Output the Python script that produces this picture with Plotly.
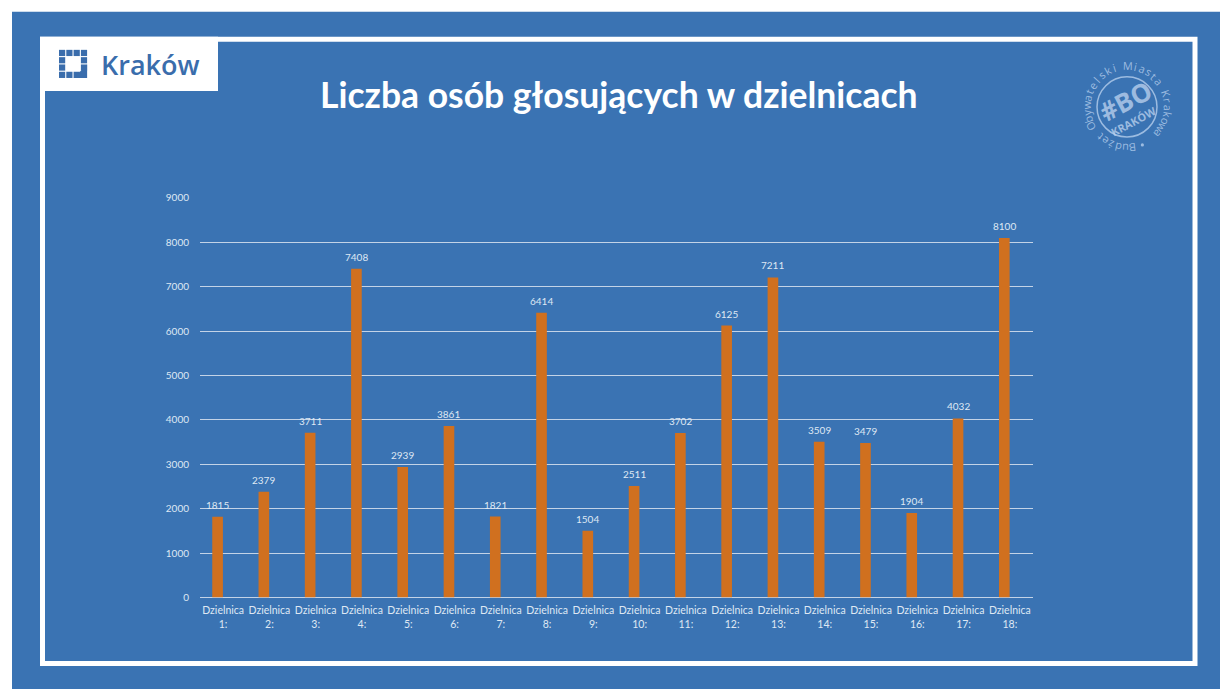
import math
import plotly.graph_objects as go

# ---- data ----
districts = [f"Dzielnica<br>{i}:" for i in range(1, 19)]
voters = [1815, 2379, 3711, 7408, 2939, 3861, 1821, 6414, 1504,
          2511, 3702, 6125, 7211, 3509, 3479, 1904, 4032, 8100]
y_ticks = [0, 1000, 2000, 3000, 4000, 5000, 6000, 7000, 8000, 9000]
title_text = "Liczba osób głosujących w dzielnicach"
badge_ring_text = "Budżet Obywatelski Miasta Krakowa"

W, H = 1220, 689
BLUE = "#3a73b3"
ORANGE = "#d0701f"
LABEL = "#dfe8f3"
GRID = "#c3d3e7"
LOGO_BLUE = "#3a6dac"
BADGE = "rgba(190,212,240,0.75)"

# the photographed page maps figure y to screen y roughly as 6.2 + 0.9816*y;
# layout positions below are given in screen pixels and converted back.
Y_OFF, Y_SC = 6.2, 0.9816


def px(x):
    return x / W


def py(y):
    return 1 - ((y - Y_OFF) / Y_SC) / H


fig = go.Figure()
fig.add_trace(go.Bar(
    x=districts, y=voters,
    marker=dict(color=ORANGE, line=dict(width=0)),
    width=0.23, offset=-0.235,
    hoverinfo="x+y",
))
# value labels, centred over each bar
bar_centre_shift = -0.235 + 0.23 / 2
annotations = []
for i, v in enumerate(voters):
    annotations.append(dict(text=str(v), x=i + bar_centre_shift, y=v, xref="x", yref="y",
                            xanchor="center", yanchor="bottom", yshift=4, showarrow=False,
                            font=dict(family="Lato", size=10, color=LABEL)))

shapes = []
shapes.append(dict(type="rect", xref="paper", yref="paper", x0=0, x1=1, y0=py(12), y1=1.02,
                   fillcolor="white", line=dict(width=0), layer="below"))
shapes.append(dict(type="rect", xref="paper", yref="paper", x0=0, x1=px(12), y0=-0.02, y1=1.02,
                   fillcolor="white", line=dict(width=0), layer="below"))
shapes.append(dict(type="rect", xref="paper", yref="paper", x0=px(42.5), x1=px(1195), y0=py(663), y1=py(39.5),
                   line=dict(color="white", width=5), fillcolor="rgba(0,0,0,0)", layer="below"))
shapes.append(dict(type="rect", xref="paper", yref="paper", x0=px(40), x1=px(218), y0=py(91), y1=py(37),
                   fillcolor="white", line=dict(width=0), layer="below"))
cell, step, ox, oy = 6.2, 7.3, 59, 50
for r in range(4):
    for c in range(4):
        if 0 < r < 3 and 0 < c < 3:
            continue
        if r == 3 and c == 3:
            continue
        x0, y0 = ox + c * step, oy + r * step
        shapes.append(dict(type="rect", xref="paper", yref="paper",
                           x0=px(x0), x1=px(x0 + cell), y0=py(y0 + cell), y1=py(y0),
                           fillcolor=LOGO_BLUE, line=dict(width=0), layer="above"))
x0, y0 = ox + 2 * step, oy + 2 * step
shapes.append(dict(type="path", xref="paper", yref="paper",
                   path=f"M {px(x0 + step + cell)},{py(y0)} L {px(x0 + step + cell)},{py(y0 + step + cell)} "
                        f"L {px(x0)},{py(y0 + step + cell)} Z",
                   fillcolor=LOGO_BLUE, line=dict(width=0)))
cx, cy = 1127, 107
ri = 30
shapes.append(dict(type="circle", xref="paper", yref="paper",
                   x0=px(cx - ri), x1=px(cx + ri), y0=py(cy + ri), y1=py(cy - ri),
                   line=dict(color=BADGE, width=1.5)))
dr = 1.6
dth = math.radians(158)
dx, dy = cx + 41 * math.sin(dth), cy - 41 * math.cos(dth)
shapes.append(dict(type="circle", xref="paper", yref="paper",
                   x0=px(dx - dr), x1=px(dx + dr), y0=py(dy + dr), y1=py(dy - dr),
                   fillcolor=BADGE, line=dict(width=0)))

annotations.append(dict(text="Kraków", x=px(99), y=py(65), xref="paper", yref="paper",
                        xanchor="left", yanchor="middle", showarrow=False,
                        font=dict(family="Open Sans", size=27, color=LOGO_BLUE, weight=600)))
annotations.append(dict(text=f"<b>{title_text}</b>", x=px(619), y=py(95), xref="paper", yref="paper",
                        xanchor="center", yanchor="middle", showarrow=False,
                        font=dict(family="Lato", size=35.5, color="white")))
annotations.append(dict(text="<b>#BO</b>", x=px(1125), y=py(101), xref="paper", yref="paper",
                        xanchor="center", yanchor="middle", showarrow=False, textangle=-28,
                        font=dict(family="Open Sans", size=26, color=BADGE)))
annotations.append(dict(text="<b>KRAKÓW</b>", x=px(1133), y=py(122), xref="paper", yref="paper",
                        xanchor="center", yanchor="middle", showarrow=False, textangle=-28,
                        font=dict(family="Open Sans", size=11, color=BADGE)))
n = len(badge_ring_text)
th0, th1 = 173, 491
R = 41
for i, ch in enumerate(badge_ring_text):
    if ch == " ":
        continue
    th = th0 + (th1 - th0) * i / (n - 1)
    t = math.radians(th)
    x = cx + R * math.sin(t)
    y = cy - R * math.cos(t)
    ang = ((th + 180) % 360) - 180
    annotations.append(dict(text=ch, x=px(x), y=py(y), xref="paper", yref="paper",
                            xanchor="center", yanchor="middle", showarrow=False,
                            textangle=ang,
                            font=dict(family="Open Sans", size=11, color=BADGE)))

fig.update_layout(
    width=W, height=H, autosize=False,
    margin=dict(l=0, r=0, t=0, b=0),
    paper_bgcolor=BLUE, plot_bgcolor="rgba(0,0,0,0)",
    showlegend=False,
    shapes=shapes, annotations=annotations,
    xaxis=dict(domain=[px(200), px(1033)], range=[-0.5, 17.5], showgrid=False,
               showline=False, zeroline=False, ticks="", ticklabelstandoff=5,
               tickfont=dict(family="Lato", size=10.5, color=LABEL), fixedrange=True),
    yaxis=dict(domain=[py(597), py(198)], range=[0, 9000], tickvals=y_ticks,
               showgrid=True, gridcolor=GRID, gridwidth=1.3, zeroline=True,
               zerolinecolor=GRID, zerolinewidth=1.3, showline=False, ticks="",
               ticklabelstandoff=10,
               tickfont=dict(family="Lato", size=10, color=LABEL), fixedrange=True),
)

post = (
    "document.documentElement.style.margin='0';"
    "document.documentElement.style.padding='0';"
    "document.documentElement.style.overflow='hidden';"
    "document.body.style.margin='0';"
    "document.body.style.padding='0';"
    "document.body.style.overflow='hidden';"
    "var g=document.querySelector('.plotly-graph-div');"
    "g.style.position='fixed';g.style.top='0px';g.style.left='0px';"
)
fig.write_html("out.html", config=dict(displayModeBar=False, responsive=False), post_script=post)
